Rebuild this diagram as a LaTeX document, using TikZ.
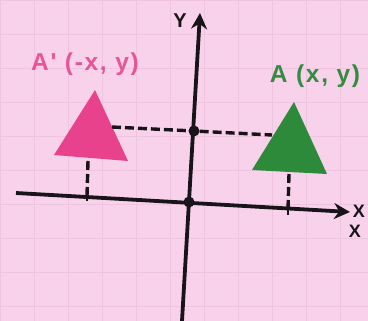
\documentclass[tikz,border=0pt]{standalone}
\usepackage{fontspec}
\setmainfont{Liberation Sans}
\newfontfamily\labfont[LetterSpace=7]{Liberation Sans}
\usetikzlibrary{arrows.meta}
\definecolor{bgpink}{RGB}{248,210,234}
\definecolor{gridpink}{RGB}{238,196,222}
\definecolor{tripink}{RGB}{232,66,140}
\definecolor{labpink}{RGB}{232,84,152}
\definecolor{trigreen}{RGB}{44,138,58}
\definecolor{labgreen}{RGB}{52,140,64}
\definecolor{ink}{RGB}{25,20,25}
\begin{document}
\begin{tikzpicture}[x=1pt,y=-1pt,
  axis/.style={draw=ink,line width=3.8pt,-{Stealth[length=16pt,width=16pt]}},
  dashline/.style={draw=ink,line width=3.4pt,dash pattern=on 9pt off 4pt},
  dotmark/.style={circle,fill=ink,inner sep=0pt,minimum size=11pt},
  axlabel/.style={text=ink,font=\fontsize{20}{20}\selectfont\bfseries,inner sep=0pt},
  ptlabel/.style={font=\labfont\fontsize{24.5}{24.5}\selectfont\bfseries,inner sep=0pt}]
\fill[bgpink] (0,0) rectangle (368,321);
\useasboundingbox (0,0) rectangle (368,321);
\draw[gridpink,line width=0.8pt] (0,0) grid[xstep=34,ystep=-34] (368,321);
% axes
\coordinate (xl) at (16,193);
\coordinate (xr) at (350,212);
\coordinate (yb) at (182,321);
\coordinate (yt) at (200,13);
\node[dotmark] (O) at (189,202) {};
\node[dotmark] (Y1) at (194,131) {};
\draw[axis] (xl) -- (xr);
\draw[axis] (yb) -- (yt);
\node[axlabel] (Ylab) at (180,21) {Y};
\node[axlabel,font=\fontsize{18}{18}\selectfont\bfseries] (Xlab1) at (359,211) {X};
\node[axlabel,font=\fontsize{18}{18}\selectfont\bfseries] (Xlab2) at (355,231) {X};
% triangles
\fill[tripink] (95,90) -- (128,161) -- (54,155) -- cycle;
\fill[trigreen] (294,102) -- (327,174) -- (252,170) -- cycle;
\coordinate (pR) at (112,127);
\coordinate (gL) at (272,135);
\coordinate (pB) at (88,161);
\coordinate (pX) at (87,196);
\coordinate (gB) at (289,174);
\coordinate (gX) at (288,210);
\draw[dashline] (pR) -- (Y1);
\draw[dashline] (Y1) -- (gL);
\draw[dashline] (pB) -- (pX);
\draw[dashline] (gB) -- (gX);
\draw[ink,line width=2pt] (87,189) -- (87,201);
\draw[ink,line width=2pt] (288,203) -- (288,215);
% labels
\node[ptlabel,text=labpink] (Ap) at (85,64) {A' (-x, y)};
\node[ptlabel,text=labgreen] (A) at (315,76) {A (x, y)};
\end{tikzpicture}
\end{document}
